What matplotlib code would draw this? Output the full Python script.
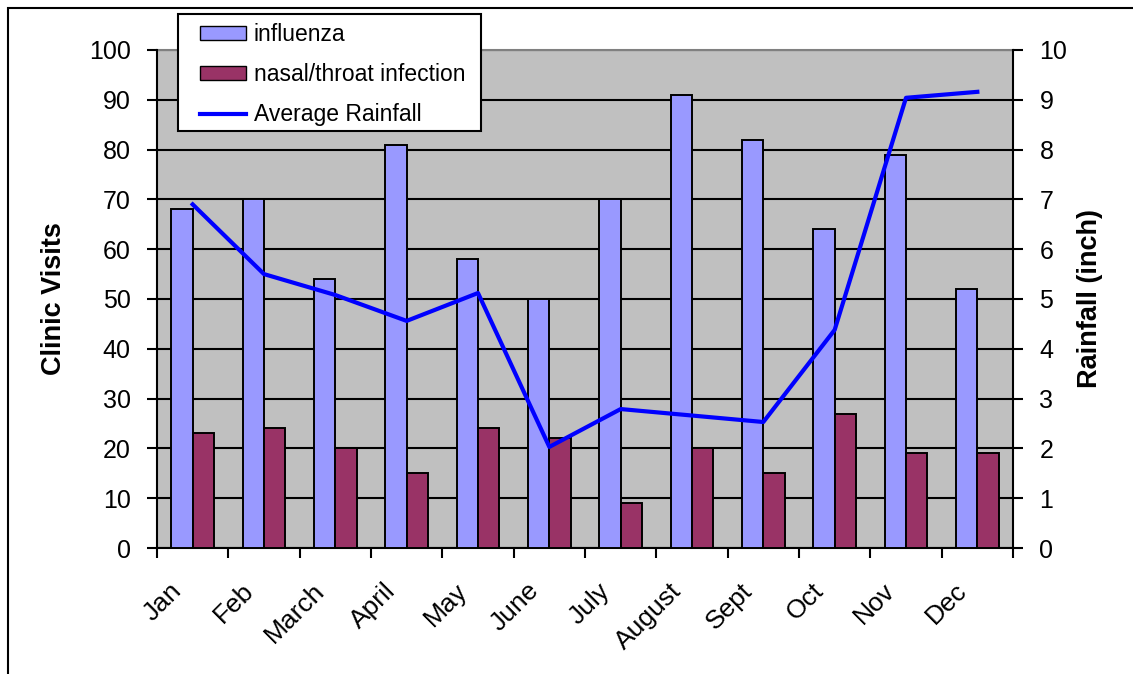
import matplotlib.pyplot as plt
from matplotlib.patches import Rectangle
from matplotlib.lines import Line2D
from matplotlib.transforms import ScaledTranslation
import numpy as np

plt.rcParams['font.family'] = ['Liberation Sans', 'DejaVu Sans']

months = ['Jan', 'Feb', 'March', 'April', 'May', 'June', 'July',
          'August', 'Sept', 'Oct', 'Nov', 'Dec']
influenza = [68, 70, 54, 81, 58, 50, 70, 91, 82, 64, 79, 52]
nasal = [23, 24, 20, 15, 24, 22, 9, 20, 15, 27, 19, 19]
rainfall = [6.9, 5.5, 5.08, 4.56, 5.12, 2.03, 2.79, 2.66, 2.53, 4.38, 9.04, 9.16]

fig = plt.figure(figsize=(11.33, 6.74), dpi=100)
ax = fig.add_axes([157/1133, 1 - 548/674, 856/1133, 498/674])
ax.set_facecolor('#C0C0C0')

x = np.arange(len(months))
w = 0.3
ax.bar(x - w/2, influenza, w, color='#9999FF', edgecolor='black', linewidth=1.4, zorder=3)
ax.bar(x + w/2, nasal, w, color='#993366', edgecolor='black', linewidth=1.4, zorder=3)

ax.set_xlim(-0.5, 11.5)
ax.set_ylim(0, 100)
ax.set_yticks(range(0, 101, 10))
ax.yaxis.grid(True, color='black', linewidth=1.5, zorder=1)
ax.set_axisbelow(True)

ax.set_xticks(np.arange(-0.5, 12, 1))
ax.set_xticklabels([])
ax.set_xticks(x, minor=True)
ax.set_xticklabels(months, minor=True, rotation=45, ha='right',
                   rotation_mode='anchor', fontsize=19)
ax.tick_params(axis='x', which='minor', length=0, pad=22)
ax.tick_params(axis='x', which='major', length=7, width=1.5, direction='out')
ax.tick_params(axis='y', labelsize=18, length=7, width=1.5, direction='out', pad=12)
shift = ScaledTranslation(-23/100, 0, fig.dpi_scale_trans)
for lab in ax.get_xticklabels(minor=True):
    lab.set_transform(lab.get_transform() + shift)

for s in ['top', 'right']:
    ax.spines[s].set_visible(False)
ax.spines['left'].set_linewidth(1.5)
ax.spines['bottom'].set_linewidth(1.5)
ax.set_ylabel('Clinic Visits', fontsize=19.5, fontweight='bold', labelpad=16)

ax2 = ax.twinx()
ax2.plot(x, rainfall, color='#0000FF', linewidth=3, zorder=4)
ax2.set_ylim(0, 10)
ax2.set_yticks(range(0, 11))
ax2.tick_params(axis='y', labelsize=18, length=7, width=1.5, direction='out', pad=12)
for s in ['top', 'left', 'bottom']:
    ax2.spines[s].set_visible(False)
ax2.spines['right'].set_linewidth(1.5)
ax2.set_ylabel('Rainfall (inch)', fontsize=19.5, fontweight='bold', labelpad=7)

# plot area top edge
ax.plot([-0.5, 11.5], [100, 100], color='#808080', linewidth=1.5, clip_on=False, zorder=2)

# legend box
fig.patches.append(Rectangle((178/1133, 1 - 131/674), 303/1133, 117/674,
                             transform=fig.transFigure, facecolor='white',
                             edgecolor='black', linewidth=1.5, zorder=4))
handles = [Rectangle((0, 0), 1, 1, facecolor='#9999FF', edgecolor='black'),
           Rectangle((0, 0), 1, 1, facecolor='#993366', edgecolor='black'),
           Line2D([0], [0], color='#0000FF', linewidth=3)]
leg = fig.legend(handles, ['influenza', 'nasal/throat infection', 'Average Rainfall'],
                 loc='upper left', bbox_to_anchor=(200/1133, 1 - 23/674),
                 fontsize=16.5, frameon=False,
                 handlelength=2.0, handleheight=0.6, labelspacing=0.75,
                 borderpad=0, handletextpad=0.35, borderaxespad=0)
leg.set_zorder(5)

# outer chart border
fig.patches.append(Rectangle((8/1133, -0.05), 1.2, 1.05 - 8/674, transform=fig.transFigure,
                             fill=False, edgecolor='black', linewidth=1.5))

fig.savefig('out.png', dpi=100)
